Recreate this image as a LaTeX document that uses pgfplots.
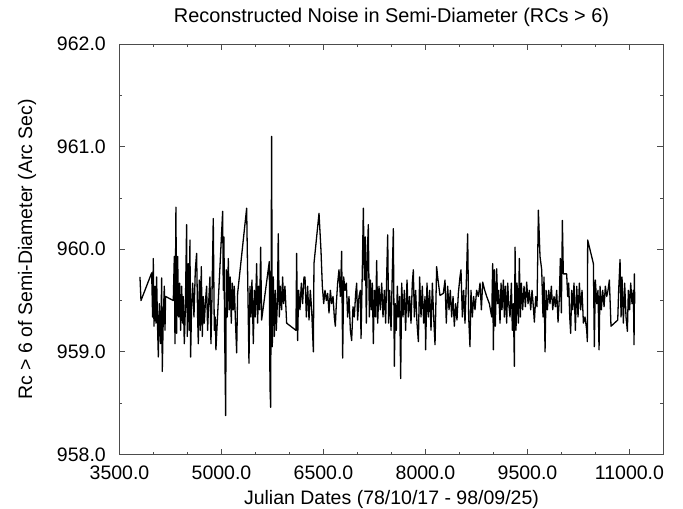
\documentclass[border=0pt]{standalone}
\usepackage{fontspec}
\setmainfont{Liberation Sans}
\usepackage{pgfplots}
\pgfplotsset{compat=1.18}
\begin{document}
\begin{tikzpicture}
\begin{axis}[
  at={(0pt,0pt)}, anchor=south west,
  scale only axis, width=544pt, height=410.5pt,
  xmin=3500, xmax=11500, ymin=958, ymax=962,
  xtick={3500,5000,6500,8000,9500,11000},
  ytick={958,959,960,961,962},
  scaled x ticks=false, scaled y ticks=false,
  minor x tick num=2, minor y tick num=1,
  tick align=inside, xtick pos=both, ytick pos=both,
  major tick length=6pt, minor tick length=3pt,
  axis line style={black!70, line width=0.8pt},
  every tick/.style={black!70, line width=0.8pt},
  /pgf/number format/assume math mode=true,
  /pgf/number format/fixed,
  /pgf/number format/fixed zerofill,
  /pgf/number format/precision=1,
  /pgf/number format/1000 sep={},
  xticklabel style={font=\fontsize{19.5}{20}\selectfont, anchor=base, inner sep=0pt, yshift=-25pt},
  yticklabel style={font=\fontsize{19.5}{20}\selectfont, anchor=east, inner sep=0pt, xshift=-13.5pt},
  title={Reconstructed Noise in Semi-Diameter (RCs > 6)},
  title style={font=\fontsize{19.9}{20}\selectfont, at={(axis description cs:0.5,1.051)}, anchor=center},
  xlabel={Julian Dates (78/10/17 - 98/09/25)},
  xlabel style={font=\fontsize{19.5}{20}\selectfont, at={(axis description cs:0.5,-0.1206)}, anchor=base, inner sep=0pt},
  ylabel={Rc > 6 of Semi-Diameter (Arc Sec)},
  ylabel style={font=\fontsize{19.5}{20}\selectfont, at={(axis description cs:-0.170,0.5)}, anchor=center},
]
\addplot[black, line width=1.3pt, line join=round] table {
3801 959.73
3816 959.50
3973 959.77
3987 959.34
3997 959.91
4007 959.25
4022 959.64
4036 959.28
4046 959.73
4061 959.21
4071 958.95
4085 959.47
4095 959.28
4105 959.08
4120 959.72
4129 958.81
4144 959.34
4159 959.64
4169 959.21
4178 959.54
4291 959.50
4306 959.93
4316 959.08
4330 960.41
4340 959.18
4355 959.93
4370 959.34
4384 959.67
4399 959.21
4414 959.64
4428 959.28
4438 959.54
4453 959.08
4468 959.41
4487 960.24
4497 959.15
4512 959.86
4526 959.21
4536 960.09
4546 958.95
4561 959.47
4576 959.67
4595 959.34
4615 959.80
4634 959.96
4649 959.34
4659 959.08
4674 959.70
4688 959.21
4703 959.83
4718 959.15
4732 959.54
4747 959.28
4762 959.47
4781 959.64
4796 959.21
4811 959.47
4830 959.73
4845 959.08
4860 959.54
4879 960.30
4894 959.21
4909 959.34
4918 959.02
5017 960.37
5026 959.60
5036 960.12
5046 959.21
5061 958.38
5071 959.80
5085 959.34
5100 959.91
5115 959.41
5129 959.73
5144 959.28
5159 959.67
5174 959.41
5188 959.64
5203 959.34
5223 958.99
5237 959.57
5370 960.40
5404 958.89
5419 959.64
5434 959.34
5448 959.70
5468 959.08
5483 959.60
5497 959.34
5517 959.86
5531 959.28
5546 959.64
5561 959.41
5576 960.02
5590 959.31
5703 959.88
5713 958.66
5723 958.46
5732 960.12
5737 961.10
5747 959.05
5762 959.73
5777 959.15
5791 959.60
5806 959.21
5821 959.47
5835 960.15
5850 959.34
5865 959.64
5884 959.41
5899 959.73
5914 959.47
5933 959.64
5958 959.28
6095 959.21
6105 959.96
6120 959.11
6134 959.60
6154 959.41
6174 959.67
6193 959.47
6213 959.73
6228 959.73
6248 959.34
6267 959.64
6287 959.31
6306 959.60
6326 959.41
6351 959.00
6360 959.86
6434 960.35
6463 959.99
6483 959.64
6503 959.47
6522 959.60
6542 959.50
6561 959.57
6581 959.38
6601 959.60
6620 959.47
6640 959.54
6659 959.34
6674 959.25
6689 959.47
6708 959.67
6728 959.80
6748 959.54
6767 959.98
6782 958.94
6797 959.73
6816 959.60
6836 959.67
6855 959.34
6875 959.54
6895 959.21
6914 959.11
6934 959.44
6953 959.34
6973 959.57
6988 959.67
7002 959.31
7022 959.54
7042 959.60
7052 959.13
7071 959.80
7086 960.40
7101 959.70
7115 960.12
7130 959.28
7145 959.96
7159 960.24
7174 959.34
7189 959.70
7203 959.41
7218 959.67
7233 959.08
7248 959.60
7267 959.34
7282 959.89
7297 959.28
7316 959.64
7336 959.41
7356 959.67
7375 959.34
7395 959.60
7414 959.28
7429 959.73
7444 960.14
7458 959.28
7473 959.60
7493 959.21
7512 959.77
7527 960.20
7542 958.86
7556 959.47
7571 959.21
7586 959.64
7601 959.34
7620 959.54
7635 958.74
7650 959.67
7669 959.34
7689 959.60
7708 959.21
7728 959.70
7748 959.34
7767 959.54
7787 959.28
7806 959.67
7821 959.80
7836 959.34
7855 959.60
7875 959.28
7895 959.10
7914 959.73
7934 959.34
7953 959.64
7973 959.28
7993 959.54
8002 959.02
8022 959.67
8042 959.34
8061 959.60
8081 959.21
8101 959.67
8120 959.34
8140 959.07
8164 959.83
8179 959.73
8213 959.55
8262 959.57
8287 959.70
8306 959.28
8326 959.64
8346 959.41
8365 959.60
8385 959.34
8405 959.54
8424 959.25
8444 959.47
8463 959.31
8483 959.57
8507 959.73
8522 959.80
8542 959.34
8561 959.60
8581 959.28
8600 959.67
8620 960.15
8635 959.34
8654 959.05
8669 959.60
8689 959.34
8708 959.54
8728 959.41
8752 959.60
8777 959.54
8802 959.67
8822 959.41
8841 959.68
8871 959.60
8900 959.54
8939 959.47
8974 959.34
8988 959.86
8998 959.02
9013 959.80
9027 959.25
9047 959.81
9062 959.47
9076 959.60
9096 959.28
9111 959.67
9125 959.41
9145 959.70
9160 959.34
9175 959.64
9194 959.28
9209 959.67
9224 959.47
9243 959.34
9263 959.67
9277 959.21
9292 959.47
9307 958.86
9317 960.02
9331 959.21
9346 959.67
9366 959.28
9380 959.91
9395 959.34
9410 959.67
9429 959.41
9449 959.64
9469 959.44
9488 959.68
9508 959.47
9527 959.60
9547 959.41
9567 959.60
9586 959.44
9601 959.29
9621 959.54
9640 959.44
9660 960.38
9684 959.93
9709 959.80
9728 959.34
9743 959.73
9758 959.00
9773 959.60
9792 959.41
9812 959.60
9831 959.47
9851 959.64
9871 959.41
9890 959.54
9910 959.44
9929 959.60
9949 959.29
9969 959.54
9983 959.91
9998 959.38
10013 960.28
10027 959.76
10076 959.76
10091 959.54
10106 959.67
10121 959.34
10135 959.18
10150 959.60
10165 959.41
10184 959.67
10204 959.21
10224 959.64
10243 959.34
10263 959.67
10282 959.41
10302 959.60
10322 959.28
10346 959.34
10371 959.21
10380 959.10
10385 960.09
10469 959.86
10483 959.05
10498 959.70
10518 959.47
10537 959.60
10552 959.02
10567 959.64
10586 959.41
10606 959.60
10626 959.44
10645 959.64
10665 959.54
10684 959.60
10704 959.70
10728 959.25
10827 959.31
10841 959.60
10861 959.90
10876 959.34
10890 959.73
10910 959.28
10929 959.67
10949 959.34
10969 959.20
10983 959.60
11002 959.41
11018 959.67
11037 959.47
11057 959.60
11067 959.07
11072 959.76
11077 959.47
};
\end{axis}
\path[use as bounding box] (-119.5pt,-51.5pt) rectangle (563.5pt,454.5pt);
\end{tikzpicture}
\end{document}
